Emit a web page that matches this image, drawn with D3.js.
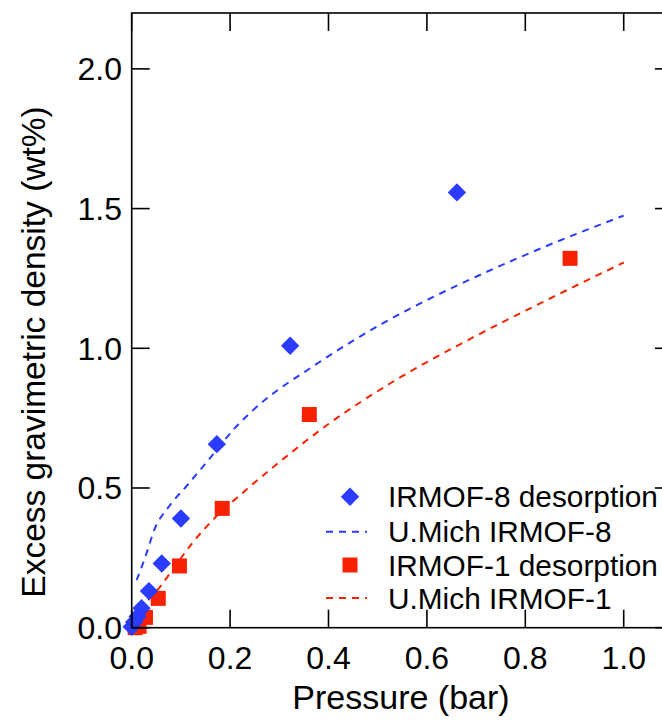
<!DOCTYPE html>
<html>
<head>
<meta charset="utf-8">
<script src="https://cdn.jsdelivr.net/npm/d3@7"></script>
<style>
  body { margin: 0; background: #fff; }
  svg { display: block; font-family: "Liberation Sans", Arial, sans-serif; }
</style>
</head>
<body>
<div class="chart"></div>
<script>
"use strict";

// IRMOF-8 desorption (measured)
let irmof8_p = [0.0, 0.005, 0.012, 0.02, 0.035, 0.061, 0.10, 0.173, 0.322, 0.661];
let irmof8_w = [0.003, 0.02, 0.04, 0.07, 0.131, 0.23, 0.391, 0.657, 1.009, 1.558];

// IRMOF-1 desorption (measured)
let irmof1_p = [0.007, 0.015, 0.028, 0.054, 0.097, 0.184, 0.361, 0.891];
let irmof1_w = [0.0, 0.005, 0.037, 0.105, 0.221, 0.427, 0.763, 1.322];

// U.Mich IRMOF-8 curve
let umich8_p = [0.01, 0.027, 0.047, 0.074, 0.112, 0.156, 0.21, 0.247, 0.376, 0.511, 0.701, 0.843, 1.0];
let umich8_w = [0.17, 0.25, 0.355, 0.43, 0.508, 0.60, 0.715, 0.779, 0.944, 1.09, 1.257, 1.366, 1.475];

// U.Mich IRMOF-1 curve
let umich1_p = [0.005, 0.03, 0.058, 0.08, 0.122, 0.169, 0.227, 0.301, 0.403, 0.525, 0.708, 0.843, 1.0];
let umich1_w = [0.02, 0.09, 0.147, 0.2, 0.3, 0.393, 0.485, 0.594, 0.733, 0.874, 1.052, 1.172, 1.307];

let x_ticks = [0.0, 0.2, 0.4, 0.6, 0.8, 1.0];
let y_ticks = [0.0, 0.5, 1.0, 1.5, 2.0];

let legend_labels = ["IRMOF-8 desorption", "U.Mich IRMOF-8", "IRMOF-1 desorption", "U.Mich IRMOF-1"];

// Plot appearance
let W = 662, H = 721;
let plot_left = 131.7, plot_right = 672.9, plot_top = 13, plot_bottom = 627.7;
let blue = "#2b3bff", red = "#f92200";
let tick_len = 18;

let svg = d3.select(".chart").append("svg")
    .attr("width", W).attr("height", H);

let x = d3.scaleLinear().domain([0, 1.1]).range([plot_left, plot_right]);
let y = d3.scaleLinear().domain([0, 2.2]).range([plot_bottom, plot_top]);

let zip = (a, b) => a.map((v, i) => [v, b[i]]);

// ---- dashed model curves
let line = d3.line().x(d => x(d[0])).y(d => y(d[1])).curve(d3.curveMonotoneX);
svg.append("path").datum(zip(umich8_p, umich8_w))
    .attr("d", line).attr("fill", "none")
    .attr("stroke", blue).attr("stroke-width", 2).attr("stroke-dasharray", "7,6");
svg.append("path").datum(zip(umich1_p, umich1_w))
    .attr("d", line).attr("fill", "none")
    .attr("stroke", red).attr("stroke-width", 2).attr("stroke-dasharray", "7,6");

// ---- markers
let sq = 15, dia = 13;
svg.selectAll(".sq").data(zip(irmof1_p, irmof1_w)).enter().append("rect")
    .attr("class", "sq")
    .attr("x", d => x(d[0]) - sq / 2).attr("y", d => y(d[1]) - sq / 2)
    .attr("width", sq).attr("height", sq).attr("fill", red);

svg.selectAll(".dia").data(zip(irmof8_p, irmof8_w)).enter().append("rect")
    .attr("class", "dia")
    .attr("x", -dia / 2).attr("y", -dia / 2)
    .attr("width", dia).attr("height", dia)
    .attr("transform", d => "translate(" + x(d[0]) + "," + y(d[1]) + ") rotate(45)")
    .attr("fill", blue);

// ---- frame and ticks
let axis_style = s => s.attr("stroke", "#000").attr("stroke-width", 1.6);
svg.append("rect").attr("x", plot_left).attr("y", plot_top)
    .attr("width", plot_right - plot_left).attr("height", plot_bottom - plot_top)
    .attr("fill", "none").call(axis_style);

x_ticks.forEach(function (t) {
    svg.append("line").attr("x1", x(t)).attr("x2", x(t))
        .attr("y1", plot_bottom).attr("y2", plot_bottom - tick_len).call(axis_style);
    svg.append("line").attr("x1", x(t)).attr("x2", x(t))
        .attr("y1", plot_top).attr("y2", plot_top + tick_len).call(axis_style);
    svg.append("text").attr("x", x(t)).attr("y", 669)
        .attr("text-anchor", "middle").style("font-size", "32px")
        .text(t.toFixed(1));
});

y_ticks.forEach(function (t) {
    svg.append("line").attr("x1", plot_left).attr("x2", plot_left + tick_len)
        .attr("y1", y(t)).attr("y2", y(t)).call(axis_style);
    svg.append("line").attr("x1", plot_right).attr("x2", plot_right - tick_len)
        .attr("y1", y(t)).attr("y2", y(t)).call(axis_style);
    svg.append("text").attr("x", 122).attr("y", y(t) + 11.5)
        .attr("text-anchor", "end").style("font-size", "32px")
        .text(t.toFixed(1));
});

// ---- axis titles
svg.append("text").attr("x", 401).attr("y", 709)
    .attr("text-anchor", "middle").style("font-size", "34px")
    .text("Pressure (bar)");

svg.append("text")
    .attr("transform", "translate(45,352) rotate(-90)")
    .attr("text-anchor", "middle").style("font-size", "33.5px")
    .text("Excess gravimetric density (wt%)");

// ---- legend
let leg_y = [496.7, 531.7, 565, 598];
let lg = svg.append("g");
lg.append("rect").attr("x", -dia / 2).attr("y", -dia / 2)
    .attr("width", dia).attr("height", dia)
    .attr("transform", "translate(350," + leg_y[0] + ") rotate(45)")
    .attr("fill", blue);
lg.append("line").attr("x1", 326).attr("x2", 367).attr("y1", leg_y[1]).attr("y2", leg_y[1])
    .attr("stroke", blue).attr("stroke-width", 2).attr("stroke-dasharray", "7,6");
lg.append("rect").attr("x", 350 - sq / 2).attr("y", leg_y[2] - sq / 2)
    .attr("width", sq).attr("height", sq).attr("fill", red);
lg.append("line").attr("x1", 326).attr("x2", 367).attr("y1", leg_y[3]).attr("y2", leg_y[3])
    .attr("stroke", red).attr("stroke-width", 2).attr("stroke-dasharray", "7,6");

legend_labels.forEach(function (s, i) {
    lg.append("text").attr("x", 388).attr("y", leg_y[i] + 10.5)
        .style("font-size", "29.8px").text(s);
});
</script>
</body>
</html>
